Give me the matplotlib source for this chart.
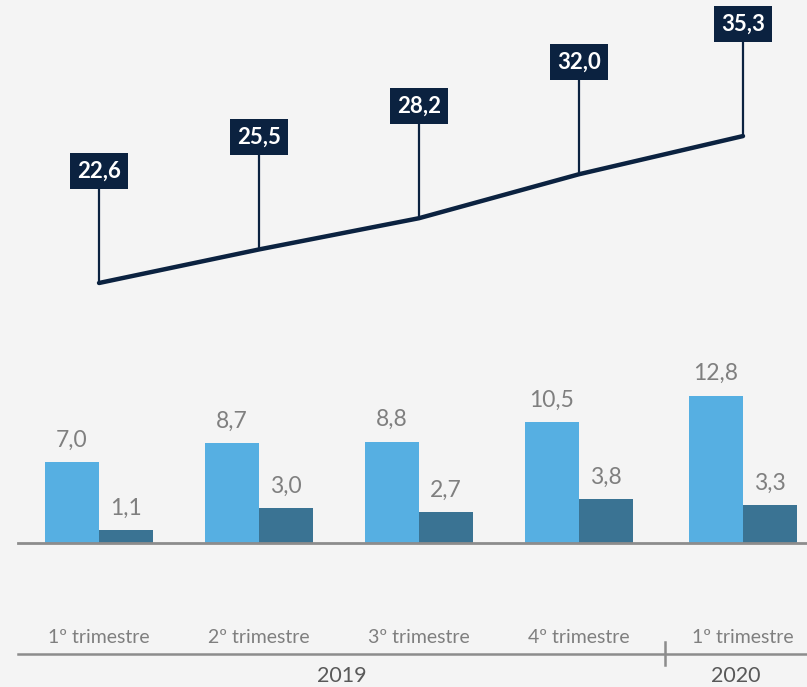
import matplotlib
matplotlib.use("Agg")
import matplotlib.pyplot as plt

# data
quarters = ["1º trimestre", "2º trimestre", "3º trimestre", "4º trimestre", "1º trimestre"]
years = ["2019", "2020"]
line_values = [22.6, 25.5, 28.2, 32.0, 35.3]
bar_light = [7.0, 8.7, 8.8, 10.5, 12.8]
bar_dark = [1.1, 3.0, 2.7, 3.8, 3.3]

def fmt(v):
    return f"{v:.1f}".replace(".", ",")

# layout
W, H = 807, 687
xpos = [0, 1, 2, 3, 4.025]
bw = 0.34
navy = "#0b2240"
light = "#56afe2"
dark = "#3a7393"
grey = "#7f7f7f"
bg = "#f4f4f4"

plt.rcParams["font.family"] = ["Lato", "DejaVu Sans"]

fig = plt.figure(figsize=(W / 100, H / 100), dpi=100, facecolor=bg)

# line part
ax_l = fig.add_axes([0, 0, 1, 1])
ax_l.set_xlim(-0.619, 4.425)
ax_l.set_ylim(-12.32, 47.06)
ax_l.axis("off")
ax_l.plot(xpos, line_values, color=navy, lw=3.2, solid_capstyle="round", zorder=3)
offset = 9.7
for x, v in zip(xpos, line_values):
    ax_l.vlines(x, v, v + offset, color=navy, lw=1.6, zorder=2)
    ax_l.text(x, v + offset, fmt(v), ha="center", va="center", color="white",
              fontsize=16, fontweight="bold", zorder=4,
              bbox=dict(boxstyle="square,pad=0.33", fc=navy, ec="none"))

# bar part
ax_b = fig.add_axes([0, 0, 1, 1])
ax_b.patch.set_alpha(0)
ax_b.set_xlim(-0.619, 4.425)
ax_b.set_ylim(-12.52, 47.2)
ax_b.axis("off")
xl = [x - bw / 2 for x in xpos]
xd = [x + bw / 2 for x in xpos]
ax_b.bar(xl, bar_light, width=bw, color=light, zorder=2)
ax_b.bar(xd, bar_dark, width=bw, color=dark, zorder=2)
for x, v in zip(xl, bar_light):
    ax_b.text(x, v + 1.0, fmt(v), ha="center", va="bottom", color=grey, fontsize=16.5)
for x, v in zip(xd, bar_dark):
    ax_b.text(x, v + 1.0, fmt(v), ha="center", va="bottom", color=grey, fontsize=16.5)
ax_b.axhline(0, xmin=18 / W, xmax=1, color="#8c8c8c", lw=2, zorder=3)

# category axis
T = ax_b.transAxes
for x, q in zip(xpos, quarters):
    ax_b.text(x, -8.2, q, ha="center", va="center", color=grey, fontsize=14)
ax_b.plot([18 / W, 1], [1 - 654 / H] * 2, transform=T, color="#8c8c8c", lw=1.8, clip_on=False)
ax_b.plot([665 / W] * 2, [1 - 642 / H, 1 - 665 / H], transform=T, color="#8c8c8c", lw=1.8, clip_on=False)
ax_b.text((18 + 665) / 2 / W, 1 - 676 / H, years[0], transform=T, ha="center", va="center",
          color="#595959", fontsize=15.5)
ax_b.text((665 + 807) / 2 / W, 1 - 676 / H, years[1], transform=T, ha="center", va="center",
          color="#595959", fontsize=15.5)

fig.savefig("out.png", dpi=100, facecolor=bg)
